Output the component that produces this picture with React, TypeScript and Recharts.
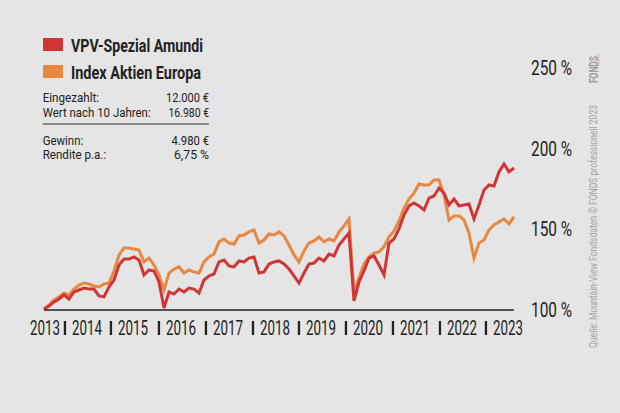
import React from 'react';
import { LineChart, Line, XAxis, YAxis } from 'recharts';

// values in % of the paid-in amount, roughly 5px steps from mid 2013 to mid 2023
const vpv = [
  100.6, 102.5, 105.0, 106.8, 109.3, 106.8, 111.2, 112.4, 113.6, 113.0,
  113.0, 108.7, 108.1, 114.3, 118.6, 127.9, 131.6, 131.6, 132.9, 131.0,
  121.7, 124.8, 124.2, 117.4, 101.2, 111.2, 109.9, 113.0, 111.2, 113.6,
  113.0, 110.5, 118.6, 121.1, 122.3, 129.8, 131.0, 127.3, 126.7, 130.4,
  129.8, 132.2, 132.9, 122.9, 123.6, 128.5, 129.8, 130.4, 128.5, 125.4,
  121.1, 116.7, 122.9, 128.5, 129.1, 132.2, 130.4, 134.7, 133.5, 140.3,
  144.0, 147.7, 105.6, 117.4, 124.2, 132.2, 133.5, 127.9, 121.7, 141.5,
  144.0, 150.2, 158.9, 164.5, 166.3, 164.5, 162.0, 169.4, 170.7, 175.6,
  172.5, 165.1, 168.8, 164.5, 165.1, 165.7, 156.4, 165.1, 174.4, 177.5,
  176.9, 185.6, 190.5, 185.6, 188.0,
];

const europa = [
  100.6, 103.1, 106.2, 108.1, 110.5, 109.3, 113.0, 115.5, 116.7, 116.1,
  114.9, 114.3, 116.1, 116.7, 124.2, 134.1, 138.4, 138.4, 137.8, 137.2,
  129.8, 132.2, 127.9, 121.7, 112.4, 122.9, 125.4, 126.7, 122.9, 124.8,
  123.6, 122.9, 129.8, 132.9, 134.7, 142.2, 144.0, 141.5, 140.9, 145.9,
  146.5, 148.4, 149.6, 141.5, 143.4, 147.1, 146.5, 148.4, 145.9, 140.3,
  134.1, 129.8, 136.6, 141.5, 142.8, 145.3, 142.2, 144.0, 142.8, 148.4,
  152.1, 156.4, 110.5, 119.8, 128.5, 132.9, 135.3, 136.0, 139.1, 145.3,
  149.0, 155.2, 163.2, 168.8, 172.5, 178.1, 177.5, 177.5, 180.6, 180.6,
  171.3, 155.8, 158.3, 158.3, 155.8, 147.7, 132.2, 141.5, 143.4, 149.6,
  152.7, 154.6, 156.4, 153.3, 157.7,
];

const years = ['2013', '2014', '2015', '2016', '2017', '2018', '2019', '2020', '2021', '2022', '2023'];
const yearPos = [0.2, 8.6, 17.8, 27.4, 36.8, 46.2, 55.4, 64.8, 74.2, 83.6, 92.8];
const yTicks = [100, 150, 200, 250];

const statsTop = [
  ['Eingezahlt:', '12.000 €'],
  ['Wert nach 10 Jahren:', '16.980 €'],
];
const statsBottom = [
  ['Gewinn:', '4.980 €'],
  ['Rendite p.a.:', '6,75 %'],
];

const data = vpv.map((v, i) => ({ i, vpv: v, europa: europa[i] }));

const FONT = "Roboto, 'Liberation Sans', sans-serif";
const RED = '#cf3535';
const ORANGE = '#e8873f';
const INK = '#222';

// rough widths of the condensed lettering in the original, per text
const textWidth: Record<string, number> = {
  'VPV-Spezial Amundi': 132,
  'Index Aktien Europa': 130,
  'Eingezahlt:': 56.5,
  'Wert nach 10 Jahren:': 108,
  'Gewinn:': 40.5,
  'Rendite p.a.:': 63.5,
  '12.000 €': 43,
  '16.980 €': 40.5,
  '4.980 €': 37.5,
  '6,75 %': 35,
};

const YearTick = (props: any) => {
  const { x, y, payload } = props;
  const k = yearPos.indexOf(payload.value);
  return (
    <g fontFamily={FONT} fontSize={20} fill={INK}>
      {/* year separator */}
      {k > 0 && <rect x={x - 23.2} y={y + 11} width={2.3} height={14} fill={INK} />}
      <text x={x} y={y + 25} textAnchor="middle" textLength={30} lengthAdjust="spacingAndGlyphs">{years[k]}</text>
    </g>
  );
};

const PctTick = (props: any) => {
  const { x, y, payload } = props;
  return (
    <text x={x} y={y + 7} fontFamily={FONT} fontSize={20} fill={INK} textLength={41} lengthAdjust="spacingAndGlyphs">
      {`${payload.value} %`}
    </text>
  );
};

const Fit = ({ x, y, t, anchor = 'start', size, weight }: any) => (
  <text x={x} y={y} textAnchor={anchor} fontSize={size} fontWeight={weight} textLength={textWidth[t]} lengthAdjust="spacingAndGlyphs">
    {t}
  </text>
);

export default function App() {
  return (
    <div style={{ position: 'absolute', left: 0, top: 0, width: 620, height: 413, background: '#e5e5e5' }}>
      <LineChart width={620} height={413} data={data} margin={{ top: 68, right: 46, left: 44, bottom: 73 }}>
        <XAxis
          type="number"
          dataKey="i"
          domain={[0, 94]}
          ticks={yearPos}
          interval={0}
          tick={<YearTick />}
          tickLine={false}
          tickSize={0}
          tickMargin={0}
          height={30}
          axisLine={{ stroke: INK, strokeWidth: 1.5 }}
        />
        <YAxis
          orientation="right"
          domain={[100, 250]}
          ticks={yTicks}
          allowDataOverflow
          width={60}
          axisLine={false}
          tickLine={false}
          tickSize={0}
          tickMargin={17}
          tick={<PctTick />}
        />
        <Line type="linear" dataKey="europa" stroke={ORANGE} strokeWidth={3} dot={false} isAnimationActive={false} />
        <Line type="linear" dataKey="vpv" stroke={RED} strokeWidth={3} dot={false} isAnimationActive={false} />
      </LineChart>

      <svg width={620} height={413} style={{ position: 'absolute', left: 0, top: 0, pointerEvents: 'none' }} fontFamily={FONT} fill={INK}>
        {/* legend */}
        <rect x={43} y={38} width={20} height={13} fill={RED} />
        <Fit x={71} y={51.7} t="VPV-Spezial Amundi" size={18} weight="bold" />
        <rect x={43} y={65} width={20} height={13} fill={ORANGE} />
        <Fit x={71} y={78.5} t="Index Aktien Europa" size={18} weight="bold" />

        {/* stats box */}
        {statsTop.map(([k, v], n) => (
          <g key={k}>
            <Fit x={42.7} y={102.3 + n * 14.7} t={k} size={13} />
            <Fit x={209} y={102.3 + n * 14.7} t={v} size={13} anchor="end" />
          </g>
        ))}
        <line x1={42.7} x2={209} y1={124} y2={124} stroke="#333" strokeWidth={1} />
        {statsBottom.map(([k, v], n) => (
          <g key={k}>
            <Fit x={42.7} y={144.5 + n * 14} t={k} size={13} />
            <Fit x={209} y={144.5 + n * 14} t={v} size={13} anchor="end" />
          </g>
        ))}

        {/* source, vertical */}
        <text transform="translate(597,348) rotate(-90)" fontSize={10.5} fill="#a3a3a3" textLength={243} lengthAdjust="spacingAndGlyphs">
          Quelle: Mountain-View Fondsdaten   © FONDS professionell 2023
        </text>
        <text transform="translate(598,83) rotate(-90)" fontSize={12.5} fontWeight="bold" fill="#9c9c9c" textLength={27} lengthAdjust="spacingAndGlyphs">
          FONDS
        </text>
        <text transform="translate(600,66) rotate(-90)" fontSize={3.5} fill={ORANGE} textLength={12} lengthAdjust="spacingAndGlyphs">
          professionell
        </text>
      </svg>
    </div>
  );
}
